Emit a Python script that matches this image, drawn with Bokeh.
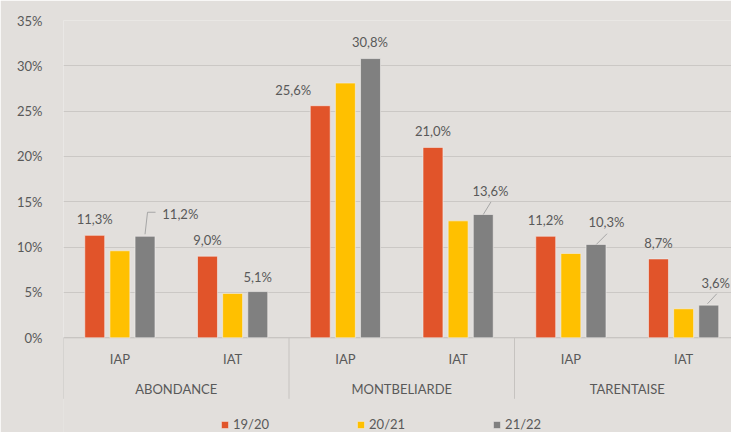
from bokeh.plotting import figure
from bokeh.models import FixedTicker, Legend, LegendItem, ColumnDataSource, Range1d
from bokeh.core.properties import value
from bokeh.embed import file_html
from bokeh.resources import INLINE

# ---- data ----
breeds = ["ABONDANCE", "MONTBELIARDE", "TARENTAISE"]
indices = ["IAP", "IAT"]
seasons = ["19/20", "20/21", "21/22"]
v_1920 = [11.3, 9.0, 25.6, 21.0, 11.2, 8.7]
v_2021 = [9.6, 4.9, 28.1, 12.9, 9.3, 3.2]
v_2122 = [11.2, 5.1, 30.8, 13.6, 10.3, 3.6]
y_ticks = [0, 5, 10, 15, 20, 25, 30, 35]

# ---- style / geometry (pixels) ----
colors = ["#E1542A", "#FFC000", "#808080"]
BG = "#E2DFDC"
TXT = "#595959"
AXC = "#C6C3C0"
FONT = "Lato"
FS = "13px"

W, H = 731, 432
B_LEFT, B_TOP = 63, 20
frame_w = W - B_LEFT
frame_h = H - B_TOP
cat_px = 112.75            # width of one category
zero_px = 317.3            # distance from frame top to the 0% line
y_end = 35
px_y = zero_px / y_end
y_start = -(frame_h - zero_px) / px_y
x_end = frame_w / cat_px
px_x = cat_px

p = figure(width=W, height=H, output_backend="svg", toolbar_location=None,
           x_range=Range1d(0, x_end), y_range=Range1d(y_start, y_end),
           x_axis_location=None, min_border_left=B_LEFT, min_border_right=0,
           min_border_top=B_TOP, min_border_bottom=0)
p.background_fill_color = BG
p.border_fill_color = BG
p.outline_line_color = None
p.xgrid.visible = False
p.ygrid.grid_line_color = "#CBC8C5"
p.ygrid.ticker = FixedTicker(ticks=y_ticks)

ya = p.yaxis[0]
ya.ticker = FixedTicker(ticks=y_ticks)
ya.major_label_overrides = {t: f"{t}%" for t in y_ticks}
ya.axis_line_color = None
ya.major_tick_line_color = None
ya.minor_tick_line_color = None
ya.major_label_standoff = 15
ya.major_label_text_font = FONT
ya.major_label_text_font_size = FS
ya.major_label_text_color = TXT

ncat = len(breeds) * len(indices)
sub_labels = [ix for b in breeds for ix in indices]
sub_x = [i + 0.5 for i in range(ncat)]
sep_x = [i * len(indices) for i in range(len(breeds) + 1)]
grp_x = [i * len(indices) + len(indices) / 2 for i in range(len(breeds))]

# hide the anti-aliasing seam at the frame's left edge
p.segment(x0=[0], y0=[y_start], x1=[0], y1=[0], line_color=BG, line_width=3)

# ---- category axis (two levels) ----
p.segment(x0=[0], y0=[0], x1=[x_end], y1=[0], line_color=AXC, line_width=1)
sep_len = 61 / px_y
p.segment(x0=sep_x, y0=[0] * len(sep_x), x1=sep_x, y1=[-sep_len] * len(sep_x),
          line_color=AXC, line_width=1)
p.text(x=sub_x, y=[-21.4 / px_y] * ncat, text=sub_labels, text_align="center",
       text_baseline="middle", text_font=value(FONT), text_font_size=FS, text_color=TXT)
p.text(x=grp_x, y=[-51 / px_y] * len(grp_x), text=breeds, text_align="center",
       text_baseline="middle", text_font=value(FONT), text_font_size=FS, text_color=TXT)

# ---- bars ----
step = 0.223
bw = 0.177
renderers = []
for k, (vals, c) in enumerate(zip([v_1920, v_2021, v_2122], colors)):
    xs = [i + 0.5 + (k - 1) * step for i in range(ncat)]
    r = p.vbar(x=xs, top=vals, width=bw, fill_color=c, line_color="#F2EFEC",
               line_alpha=0.6, line_width=1)
    renderers.append(r)

def fmt(v):
    return f"{v:.1f}%".replace(".", ",")

# ---- data labels (orange and grey series) ----
orange_dx = [0, 0, -27, 0, 0, 0]
orange_dy = [-16, -16, -16, -16, -16, -16]
grey_dx = [35.3, 0, -0.5, 7.2, 10.5, 7]
grey_dy = [-22.7, -15, -16.7, -24, -22.6, -22.4]

for k, vals, dxs, dys in [(0, v_1920, orange_dx, orange_dy), (2, v_2122, grey_dx, grey_dy)]:
    src = ColumnDataSource(dict(
        x=[i + 0.5 + (k - 1) * step + dx / px_x for i, dx in enumerate(dxs)],
        y=[v - dy / px_y for v, dy in zip(vals, dys)],
        t=[fmt(v) for v in vals]))
    p.text(x="x", y="y", text="t", source=src, text_align="center",
           text_baseline="middle", text_font=value(FONT), text_font_size=FS,
           text_color=TXT)

# ---- leader lines for the grey labels ----
leader_paths = {0: [(0, -2), (2.5, -24), (10.5, -24)],
                3: [(0, 0), (7.7, -12.6)],
                4: [(0.3, 0), (11, -10.7)],
                5: [(-1.3, -1.4), (8, -11.4)]}
lx, ly = [], []
for i, path in leader_paths.items():
    cx = i + 0.5 + step
    lx.append([cx + dx / px_x for dx, dy in path])
    ly.append([v_2122[i] - dy / px_y for dx, dy in path])
p.multi_line(xs=lx, ys=ly, line_color="#A6A6A6", line_width=1)

# ---- legend ----
legend = Legend(items=[LegendItem(label=s, renderers=[r]) for s, r in zip(seasons, renderers)],
                orientation="horizontal", location=(157, 0))
legend.background_fill_alpha = 0
legend.border_line_color = None
legend.padding = 0
legend.margin = 0
legend.spacing = 87
legend.glyph_width = 9
legend.glyph_height = 9
legend.label_standoff = 4
legend.label_text_font = FONT
legend.label_text_font_size = FS
legend.label_text_color = TXT
p.add_layout(legend, "center")

html = file_html(p, INLINE)
open("out.html", "w").write(html)
